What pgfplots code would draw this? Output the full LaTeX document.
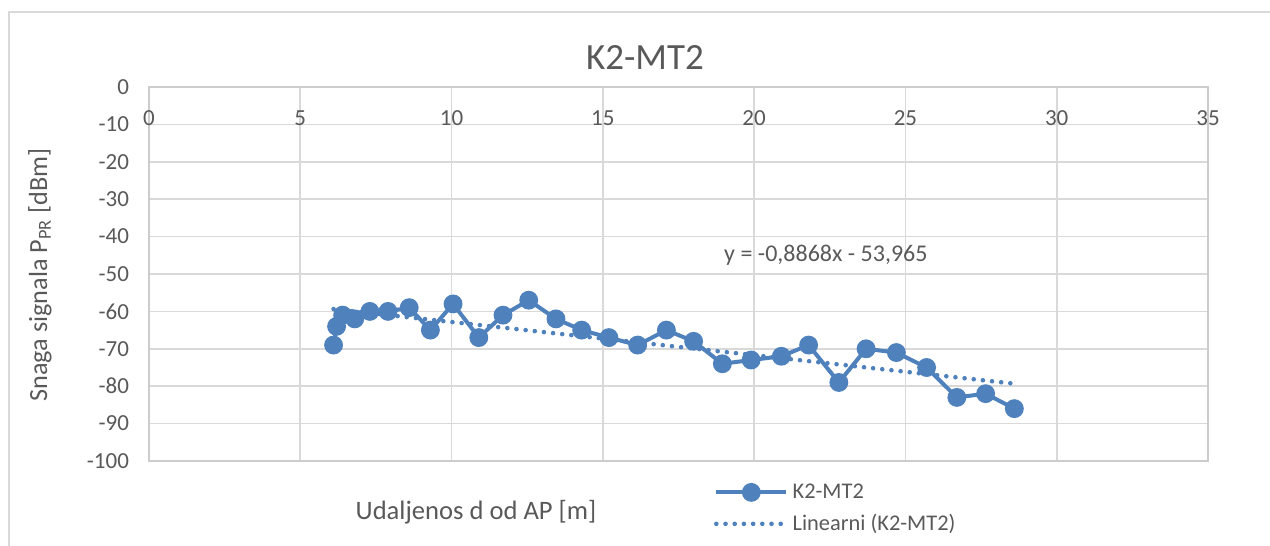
\documentclass[border=0pt]{standalone}
\usepackage{pgfplots}
\pgfplotsset{compat=1.18}
\usepackage{fontspec}
\setmainfont{Carlito}
\definecolor{serie}{HTML}{4F81BD}
\definecolor{mreza}{HTML}{D9D9D9}
\definecolor{tekst}{HTML}{595959}

\begin{document}
\begin{tikzpicture}
% okvir grafikona
\draw[mreza, line width=0.6pt] (4.5pt,-273pt) -- (4.5pt,-6pt) -- (635pt,-6pt);

\begin{axis}[
    at={(74.5pt,-43.5pt)}, anchor=north west,
    scale only axis,
    width=529.5pt, height=187pt,
    xmin=0, xmax=35, ymin=-100, ymax=0,
    xtick distance=5, ytick distance=10,
    xticklabel pos=upper,
    grid=major,
    major grid style={mreza, line width=0.8pt},
    axis line style={mreza!80!black!30!mreza, line width=0.8pt},
    major tick length=0pt,
    tick label style={font=\fontsize{11.5}{12}\selectfont, text=tekst},
    /pgf/number format/assume math mode=true,
    xticklabel style={anchor=north, yshift=-8.5pt},
    yticklabel style={xshift=-6.5pt},
    legend cell align=left,
    legend style={at={(0.5275,-0.038)}, anchor=north west, draw=none, fill=none,
        font=\fontsize{11.2}{12}\selectfont, text=tekst,
        row sep=2.5pt},
    legend image code/.code={
        \draw[#1] (0pt,0pt) -- (35pt,0pt);
        \path[#1, dash pattern=] plot coordinates {(17.5pt,0pt)};
    },
]
\addplot[serie, line width=2pt, mark=*, mark size=3.7pt] coordinates {
    (6.1,-69) (6.2,-64) (6.4,-61) (6.8,-62) (7.3,-60) (7.9,-60)
    (8.6,-59) (9.3,-65) (10.05,-58) (10.9,-67) (11.7,-61) (12.55,-57)
    (13.45,-62) (14.3,-65) (15.2,-67) (16.15,-69) (17.1,-65) (18.0,-68)
    (18.95,-74) (19.9,-73) (20.9,-72) (21.8,-69) (22.8,-79) (23.7,-70)
    (24.7,-71) (25.7,-75) (26.7,-83) (27.65,-82) (28.6,-86)
};
\addlegendentry{K2-MT2}
\addplot[serie, line width=2.3pt, line cap=round, dash pattern=on 0pt off 4.6pt] coordinates {
    (6.1,-59.37) (28.6,-79.33)
};
\addlegendentry{Linearni (K2-MT2)}
\node[text=tekst, font=\fontsize{12}{13}\selectfont] at (axis cs:22.37,-44.9) {y = -0,8868x - 53,965};
\end{axis}

\node[text=tekst, font=\fontsize{18.5}{20}\selectfont] at (322.5pt,-28.5pt) {K2-MT2};
\node[text=tekst, font=\fontsize{13.3}{15}\selectfont] at (238pt,-256pt) {Udaljenos d od AP [m]};
\node[text=tekst, font=\fontsize{13.1}{15}\selectfont, rotate=90] at (20pt,-137.5pt) {Snaga signala P\textsubscript{PR} [dBm]};

\pgfresetboundingbox
\path (0pt,0pt) rectangle (635pt,-273pt);
\end{tikzpicture}
\end{document}
